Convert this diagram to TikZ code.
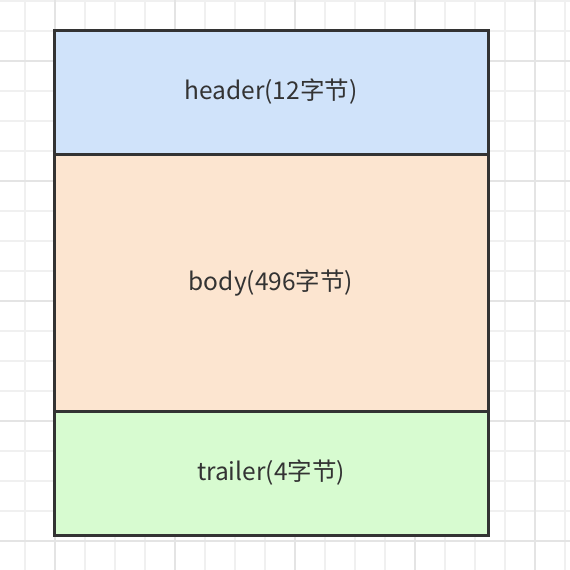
\documentclass[tikz,border=0pt]{standalone}
\usepackage{fontspec}
\setmainfont{Noto Sans CJK SC} % 中文与英文统一用无衬线字体
\usetikzlibrary{
  positioning % 节点相对定位
}
\definecolor{gridminor}{RGB}{240,240,240}   % 背景细网格
\definecolor{gridmajor}{RGB}{228,228,228}   % 背景粗网格
\definecolor{edgegray}{RGB}{51,51,51}       % 边框与文字
\definecolor{headerfill}{RGB}{208,227,250}  % header 浅蓝
\definecolor{bodyfill}{RGB}{252,229,208}    % body 浅橙
\definecolor{trailerfill}{RGB}{215,251,208} % trailer 浅绿

\begin{document}
\begin{tikzpicture}[x=1pt, y=-1pt, % 以像素为单位，y 轴向下
  gridline/.style={gridminor, line width=1.5pt},
  gridbold/.style={gridmajor, line width=1.5pt},
  block/.style={draw=edgegray, line width=3pt, minimum width=434pt, inner sep=0pt, outer sep=0pt,
    text=edgegray, font=\fontsize{24.5}{29}\selectfont}]

  % ======= 背景网格 =======
  \useasboundingbox (0,0) rectangle (570,570); % 固定画布大小
  \fill[white] (0,0) rectangle (570,570);
  \foreach \gx in {25,55,...,565} \draw[gridline] (\gx,0) -- (\gx,570); % 竖线
  \foreach \gy in {1,31,...,541} \draw[gridline] (0,\gy) -- (570,\gy); % 横线
  \foreach \gx in {55,175,...,535} \draw[gridbold] (\gx,0) -- (\gx,570); % 每四格加深
  \foreach \gy in {61,181,...,541} \draw[gridbold] (0,\gy) -- (570,\gy);

  % ======= 三段数据包 =======
  \node[block, fill=headerfill, minimum height=124pt] (header) at (271,92) {header(12字节)}; % 头部
  \node[block, fill=bodyfill, minimum height=257pt, below=0pt of header] (body) {body(496字节)}; % 数据体
  \node[block, fill=trailerfill, minimum height=124pt, below=0pt of body] (trailer) {trailer(4字节)}; % 尾部

\end{tikzpicture}
\end{document}
